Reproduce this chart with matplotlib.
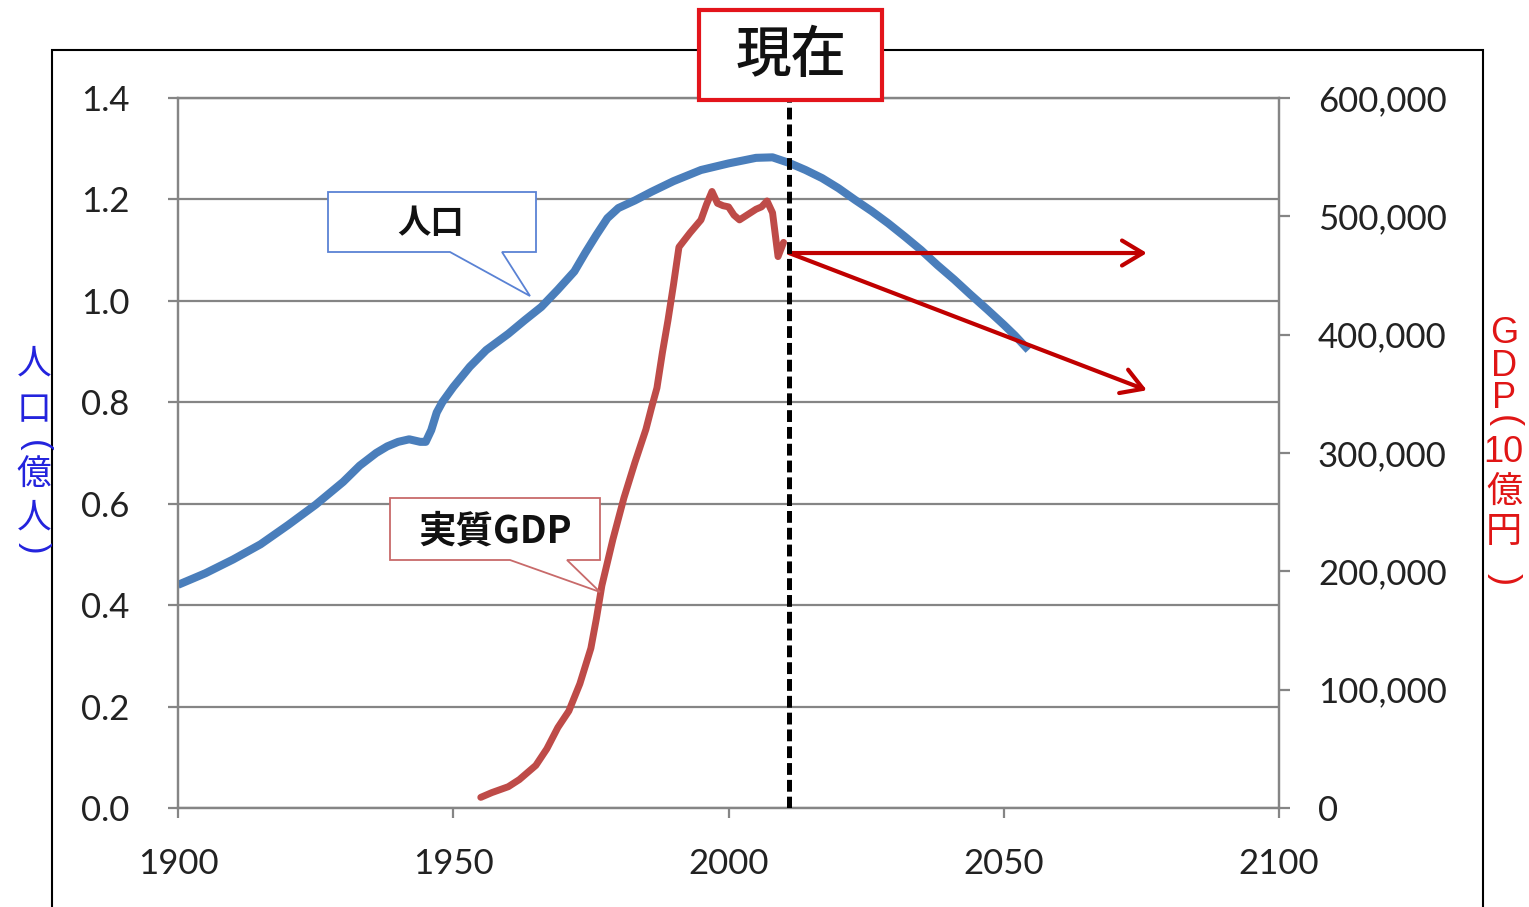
import matplotlib
matplotlib.use("Agg")
import matplotlib.pyplot as plt
from matplotlib.patches import Polygon, Rectangle, FancyArrowPatch
from matplotlib.ticker import FixedLocator, FuncFormatter

plt.rcParams['lines.scale_dashes'] = False
plt.rcParams['font.family'] = ['Lato', 'Noto Sans CJK JP', 'DejaVu Sans']

W, H, DPI = 1529, 907, 100

# Population (hundred millions of people), actual and projected
pop_years = [1900, 1905, 1910, 1915, 1920, 1925, 1930, 1933, 1936, 1938,
             1940, 1942, 1944, 1945, 1946, 1947, 1948, 1950, 1953, 1956,
             1960, 1963, 1966, 1969, 1972, 1974, 1976, 1978, 1980, 1983,
             1986, 1990, 1995, 2000, 2005, 2008, 2011, 2014, 2017, 2020,
             2023, 2026, 2029, 2032, 2035, 2038, 2041, 2044, 2047, 2050,
             2052, 2054.5]
pop_values = [0.440, 0.463, 0.490, 0.520, 0.558, 0.598, 0.643, 0.675, 0.700, 0.713,
              0.722, 0.727, 0.722, 0.722, 0.745, 0.780, 0.800, 0.830, 0.870, 0.903,
              0.935, 0.962, 0.988, 1.022, 1.058, 1.095, 1.130, 1.163, 1.183, 1.198,
              1.215, 1.236, 1.258, 1.271, 1.282, 1.283, 1.272, 1.258, 1.242, 1.222,
              1.199, 1.177, 1.153, 1.127, 1.100, 1.070, 1.042, 1.012, 0.983, 0.953,
              0.932, 0.903]

# Real GDP (billion yen)
gdp_years = [1955, 1957, 1960, 1962, 1965, 1967, 1969, 1971, 1973, 1975,
             1976, 1977, 1979, 1981, 1983, 1985, 1986, 1987, 1988, 1989,
             1990, 1991, 1992, 1993, 1995, 1996, 1997, 1998, 1999, 2000,
             2001, 2002, 2003, 2004, 2005, 2006, 2007, 2008, 2009, 2010]
gdp_values = [9000, 13000, 18000, 24000, 36000, 50000, 68000, 82000, 105000, 135000,
              160000, 188000, 227000, 262000, 292000, 320000, 338000, 355000, 385000, 412000,
              442000, 474000, 480000, 486000, 497000, 510000, 521000, 511000, 509000, 508000,
              501000, 497000, 500000, 503000, 506000, 508000, 513000, 503000, 466000, 478000]

# Present year and the two GDP scenarios after it
now_year = 2011
proj_end_year = 2076
gdp_flat = 469000
gdp_decline = 353000

x_ticks = [1900, 1950, 2000, 2050, 2100]
pop_ticks = [0.0, 0.2, 0.4, 0.6, 0.8, 1.0, 1.2, 1.4]
gdp_ticks = [0, 100000, 200000, 300000, 400000, 500000, 600000]

GRID = '#858585'
TXT = '#222222'
BLUE = '#4A7EBB'
RED = '#BE4B48'
ARROW = '#C00000'
CJK = 'Noto Sans CJK JP'
LAT = 'Liberation Sans'

fig = plt.figure(figsize=(W / DPI, H / DPI), dpi=DPI)
fig.patch.set_facecolor('white')


def fx(px):
    return px / W


def fy(py):
    return 1 - py / H


ax = fig.add_axes([fx(178), fy(808), 1101 / W, 710 / H])
ax.set_xlim(x_ticks[0], x_ticks[-1])
ax.set_ylim(pop_ticks[0], pop_ticks[-1])
ax2 = ax.twinx()
ax2.set_ylim(gdp_ticks[0], gdp_ticks[-1])

for a in (ax, ax2):
    for s in a.spines.values():
        s.set_color(GRID)
        s.set_linewidth(1.6)

ax.xaxis.set_major_locator(FixedLocator(x_ticks))
ax.yaxis.set_major_locator(FixedLocator(pop_ticks))
ax.yaxis.set_major_formatter(FuncFormatter(lambda v, p: f'{v:.1f}'))
ax2.yaxis.set_major_locator(FixedLocator(gdp_ticks))
ax2.yaxis.set_major_formatter(FuncFormatter(lambda v, p: f'{int(v):,}'))

ax.yaxis.grid(True, color=GRID, linewidth=1.6)
ax.set_axisbelow(True)

ax.tick_params(axis='y', direction='out', length=7, width=1.6, color=GRID,
               pad=28, labelsize=25, labelcolor=TXT)
ax.tick_params(axis='x', direction='out', length=7, width=1.6, color=GRID,
               pad=22, labelsize=25, labelcolor=TXT)
ax2.tick_params(axis='y', direction='out', length=8, width=1.6, color=GRID,
                pad=20, labelsize=25, labelcolor=TXT)

# Data series
ax.plot(pop_years, pop_values, color=BLUE, linewidth=5.8,
        solid_capstyle='butt', solid_joinstyle='round', zorder=3)
ax2.plot(gdp_years, gdp_values, color=RED, linewidth=5.0,
         solid_capstyle='round', solid_joinstyle='round', zorder=3)

# Present-day marker
ax2.axvline(now_year, color='black', linewidth=3.6, dashes=(8.5, 3.6), zorder=6)

# GDP scenarios from the present
for target in (gdp_flat, gdp_decline):
    arr = FancyArrowPatch((now_year, gdp_flat), (proj_end_year, target),
                          arrowstyle='->,head_length=0.75,head_width=0.45',
                          mutation_scale=20, linewidth=3.0, color=ARROW,
                          shrinkA=0, shrinkB=0, transform=ax2.transData, zorder=5)
    ax2.add_patch(arr)

# Outer frame
frame = Rectangle((fx(52), fy(930)), (1483 - 52) / W, (930 - 50) / H,
                  transform=fig.transFigure, fill=False, edgecolor='black',
                  linewidth=1.5, zorder=1)
fig.add_artist(frame)

# "現在" heading box
now_box = Rectangle((fx(699), fy(100)), (882 - 699) / W, 90 / H,
                    transform=fig.transFigure, facecolor='white',
                    edgecolor='#E3141B', linewidth=3.0, zorder=8)
fig.add_artist(now_box)
fig.text(fx(791), fy(56), '現在', fontsize=40, family=[CJK], fontweight='medium',
         color='#111111', ha='center', va='center', zorder=9)


def callout(pts, edge, label, cx, cy, size):
    poly = Polygon([(fx(x), fy(y)) for x, y in pts], closed=True,
                   transform=fig.transFigure, facecolor='white',
                   edgecolor=edge, linewidth=1.3, zorder=8)
    fig.add_artist(poly)
    fig.text(fx(cx), fy(cy), label, fontsize=size, family=[CJK],
             fontweight='bold', color='#111111', ha='center', va='center',
             zorder=9)


callout([(328, 192), (536, 192), (536, 252), (502, 252), (530, 296),
         (450, 252), (328, 252)], '#5A82D4', '人口', 431, 224, 24)
callout([(390, 498), (600, 498), (600, 560), (567, 560), (600, 592),
         (510, 560), (390, 560)], '#C86A6A', '実質GDP', 495, 531, 27)


# Vertical axis titles: stacked characters, with bracket arcs drawn as turned parentheses
def vtext(s, x, y, size, fam, color, ls=1.0):
    fig.text(fx(x), fy(y), s, fontsize=size, family=fam, color=color,
             ha='center', va='center', multialignment='center',
             linespacing=ls, zorder=9)


def arc(ch, x, y, size, color):
    fig.text(fx(x), fy(y), ch, fontsize=size, family=[LAT], color=color,
             rotation=-90, ha='center', va='center', zorder=9)


LEFT_C = '#2323DD'
vtext('人\n口', 34, 387, 25, [CJK], LEFT_C, ls=1.44)
arc('(', 34, 446, 25, LEFT_C)
vtext('億\n人', 34, 497, 25, [CJK], LEFT_C, ls=1.29)
arc(')', 34, 548, 25, LEFT_C)

RIGHT_C = '#E01515'
vtext('G\nD\nP', 1504, 366, 26, [LAT], RIGHT_C, ls=0.91)
arc('(', 1504, 421, 26, RIGHT_C)
vtext('10', 1503, 452, 26, [LAT], RIGHT_C)
vtext('億\n円', 1504, 512, 26, [CJK], RIGHT_C, ls=1.12)
arc(')', 1504, 579, 26, RIGHT_C)

fig.savefig('out.png', dpi=DPI, facecolor='white')
